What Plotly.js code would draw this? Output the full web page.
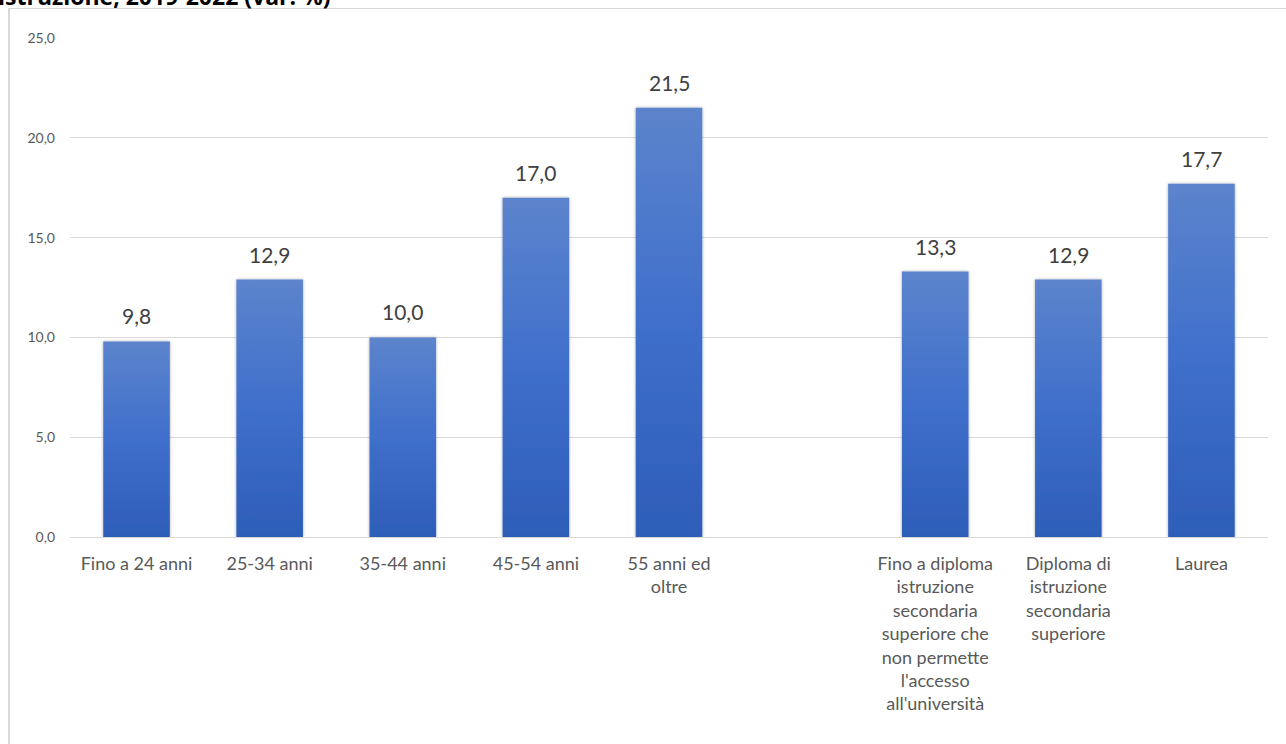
<!DOCTYPE html>
<html>
<head>
<meta charset="utf-8">
<script src="https://cdn.plot.ly/plotly-3.0.1.min.js"></script>
<style>
  html, body { margin:0; padding:0; background:#fff; width:1286px; height:744px; overflow:hidden; }
  #frame { position:absolute; left:8px; top:8px; width:1300px; height:760px; border-left:2px solid #d9d9d9; border-top:1px solid #d9d9d9; }
  #ttl { position:absolute; left:-2px; top:-19px; font-family:"Open Sans","Liberation Sans",sans-serif; font-weight:bold; font-size:23px; line-height:31px; color:#000; white-space:nowrap; }
  #chart { position:absolute; left:0; top:0; width:1286px; height:744px; }
</style>
</head>
<body>
<div id="frame"></div>
<div id="chart"></div>
<div id="ttl">istruzione, 2019-2022 (var. %)</div>
<script>
const categories = [
  "Fino a 24 anni",
  "25-34 anni",
  "35-44 anni",
  "45-54 anni",
  "55 anni ed<br>oltre",
  " ",
  "Fino a diploma<br>istruzione<br>secondaria<br>superiore che<br>non permette<br>l'accesso<br>all'università",
  "Diploma di<br>istruzione<br>secondaria<br>superiore",
  "Laurea"
];
const values = [9.8, 12.9, 10.0, 17.0, 21.5, null, 13.3, 12.9, 17.7];
const yTicks = [0, 5, 10, 15, 20, 25];
const yTickLabels = ["0,0", "5,0", "10,0", "15,0", "20,0", "25,0"];

const fontFam = "Lato, 'Noto Sans', sans-serif";

const annotations = categories.map((c, i) => values[i] == null ? null : ({
  x: c, y: values[i], xref: 'x', yref: 'y',
  text: values[i].toFixed(1).replace('.', ','),
  showarrow: false, yanchor: 'bottom', yshift: 11,
  font: { family: fontFam, size: 21, color: '#404040' }
})).filter(a => a);

const trace = {
  type: 'bar',
  x: categories,
  y: values,
  width: 0.5,
  marker: { color: '#4472c4', line: { width: 0 } },
  hoverinfo: 'skip'
};

const layout = {
  width: 1286, height: 744,
  margin: { l: 70, r: 18, t: 38, b: 207 },
  paper_bgcolor: 'rgba(0,0,0,0)',
  plot_bgcolor: 'rgba(0,0,0,0)',
  showlegend: false,
  bargap: 0.5,
  xaxis: {
    type: 'category',
    tickfont: { family: fontFam, size: 18, color: '#595959' },
    showgrid: false, zeroline: false, showline: false,
    ticks: '', tickangle: 0, automargin: false, ticklabelstandoff: 14
  },
  yaxis: {
    range: [0, 25],
    tickvals: yTicks, ticktext: yTickLabels,
    tickfont: { family: fontFam, size: 14, color: '#595959' },
    showgrid: true, gridcolor: '#d9d9d9', gridwidth: 1,
    zeroline: true, zerolinecolor: '#d9d9d9', zerolinewidth: 1,
    showline: false, ticks: '', ticklabelstandoff: 14, automargin: false
  },
  annotations: annotations
};

Plotly.newPlot('chart', [trace], layout, { displayModeBar: false, staticPlot: true }).then(gd => {
  const svg = gd.querySelector('svg.main-svg');
  const ns = 'http://www.w3.org/2000/svg';
  let defs = svg.querySelector('defs');
  if (!defs) { defs = document.createElementNS(ns, 'defs'); svg.insertBefore(defs, svg.firstChild); }
  const g = document.createElementNS(ns, 'linearGradient');
  g.setAttribute('id', 'barGrad');
  g.setAttribute('x1', '0'); g.setAttribute('y1', '0'); g.setAttribute('x2', '0'); g.setAttribute('y2', '1');
  [['0', '#5c84cc'], ['0.5', '#3f6fcb'], ['1', '#2d5db8']].forEach(([o, c]) => {
    const s = document.createElementNS(ns, 'stop');
    s.setAttribute('offset', o); s.setAttribute('stop-color', c);
    g.appendChild(s);
  });
  defs.appendChild(g);
  const f = document.createElementNS(ns, 'filter');
  f.setAttribute('id', 'barShadow');
  f.setAttribute('x', '-20%'); f.setAttribute('y', '-10%'); f.setAttribute('width', '140%'); f.setAttribute('height', '120%');
  const ds = document.createElementNS(ns, 'feDropShadow');
  ds.setAttribute('dx', '0'); ds.setAttribute('dy', '0'); ds.setAttribute('stdDeviation', '1.5');
  ds.setAttribute('flood-color', '#000'); ds.setAttribute('flood-opacity', '0.35');
  f.appendChild(ds);
  defs.appendChild(f);
  gd.querySelectorAll('.bars .point path').forEach(p => {
    p.style.fill = 'url(#barGrad)';
    p.setAttribute('filter', 'url(#barShadow)');
  });
});
</script>
</body>
</html>
